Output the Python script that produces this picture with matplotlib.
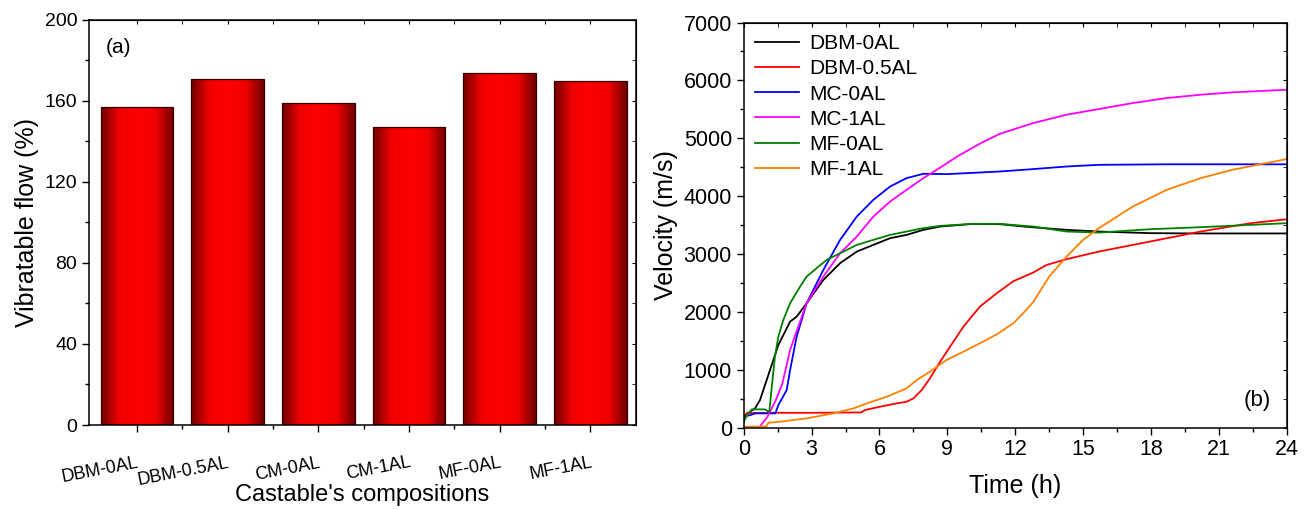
import matplotlib
matplotlib.use("Agg")
import matplotlib.pyplot as plt
import numpy as np
from matplotlib.colors import LinearSegmentedColormap
from matplotlib.ticker import MultipleLocator

plt.rcParams['font.family'] = ['Liberation Sans', 'DejaVu Sans']

# ---- panel (a) data ----
castables = ['DBM-0AL', 'DBM-0.5AL', 'CM-0AL', 'CM-1AL', 'MF-0AL', 'MF-1AL']
flow = [157, 171, 159, 147, 174, 170]

# ---- panel (b) data (time in h, velocity in m/s) ----
t_dbm0 = [0, 0.06, 0.5, 0.72, 1.53, 2.05, 2.34, 2.78, 3.52, 4.26, 5.0, 5.73, 6.47, 7.2,
          7.94, 8.68, 10.15, 11.33, 12.5, 14.27, 15.7, 17.96, 20, 24]
v_dbm0 = [100, 216, 332, 476, 1427, 1831, 1917, 2148, 2552, 2841, 3042, 3157, 3273, 3330,
          3417, 3474, 3521, 3515, 3470, 3417, 3388, 3360, 3355, 3355]

t_dbm05 = [0, 0.13, 1.0, 3.0, 5.2, 5.36, 6.02, 6.61, 7.2, 7.5, 7.87, 8.23, 8.68, 9.12, 9.71,
           10.44, 11.18, 11.92, 12.8, 13.39, 14.27, 15.7, 17.96, 20.2, 22.4, 24]
v_dbm05 = [130, 250, 255, 255, 262, 303, 360, 407, 447, 505, 649, 851, 1138, 1398, 1744,
           2090, 2320, 2530, 2680, 2811, 2910, 3042, 3215, 3388, 3532, 3600]

t_mc0 = [0, 0.1, 0.3, 0.5, 1.4, 1.53, 1.9, 2.05, 2.34, 2.78, 3.52, 4.26, 5.0, 5.73, 6.47,
         7.2, 7.94, 9.0, 10.0, 11.33, 12.8, 14.27, 15.7, 18.7, 24]
v_mc0 = [150, 200, 216, 245, 245, 389, 649, 995, 1571, 2148, 2725, 3244, 3648, 3936, 4166,
         4311, 4386, 4380, 4400, 4426, 4467, 4512, 4541, 4550, 4550]

t_mc1 = [0.76, 1.05, 1.42, 1.71, 2.05, 2.41, 2.78, 3.52, 4.26, 5.0, 5.73, 6.47, 7.2, 7.94,
         8.53, 9.5, 10.5, 11.33, 12.8, 14.27, 15.7, 17.2, 18.7, 20.2, 21.6, 24]
v_mc1 = [43, 187, 476, 764, 1341, 1744, 2148, 2609, 3014, 3301, 3647, 3907, 4109, 4311,
         4455, 4700, 4920, 5078, 5263, 5407, 5505, 5609, 5695, 5753, 5793, 5839]

t_mf0 = [0, 0.1, 0.28, 0.35, 0.94, 1.13, 1.24, 1.38, 1.53, 1.75, 2.05, 2.49, 2.78, 3.22,
         3.67, 4.26, 5.0, 5.73, 6.47, 7.2, 7.94, 8.68, 10.15, 11.33, 12.8, 14.27, 15.7,
         17.96, 20.2, 22.4, 24]
v_mf0 = [100, 180, 273, 314, 314, 273, 706, 1225, 1571, 1860, 2148, 2436, 2610, 2754,
         2898, 3013, 3157, 3244, 3330, 3388, 3446, 3486, 3521, 3520, 3474, 3388, 3370,
         3428, 3463, 3503, 3532]

t_mf1 = [0, 1.0, 1.09, 1.6, 2.78, 3.96, 4.85, 5.44, 6.32, 7.2, 7.65, 8.23, 8.97, 9.71,
         10.44, 11.18, 11.92, 12.35, 12.8, 13.5, 14.27, 15.0, 15.7, 16.5, 17.2, 18.7,
         20.2, 21.6, 23.1, 24]
v_mf1 = [14, 20, 83, 101, 159, 245, 332, 418, 533, 678, 822, 966, 1168, 1311, 1457, 1610,
         1803, 1976, 2170, 2609, 2955, 3244, 3446, 3647, 3820, 4109, 4311, 4455, 4571, 4640]

series = [
    ('DBM-0AL', t_dbm0, v_dbm0, 'black'),
    ('DBM-0.5AL', t_dbm05, v_dbm05, '#ff0000'),
    ('MC-0AL', t_mc0, v_mc0, '#0000ff'),
    ('MC-1AL', t_mc1, v_mc1, '#ff00ff'),
    ('MF-0AL', t_mf0, v_mf0, '#008000'),
    ('MF-1AL', t_mf1, v_mf1, '#ff8000'),
]

fig = plt.figure(figsize=(13.08, 5.09), dpi=100)
ax1 = fig.add_axes([0.068, 0.165, 0.418, 0.796])
ax2 = fig.add_axes([0.5686, 0.160, 0.4151, 0.7957])

# ---- panel (a): bars with horizontal red gradient ----
cmap = LinearSegmentedColormap.from_list('redgrad', ['#700000', '#f00000', '#ff0000', '#f00000', '#700000'])
grad = np.linspace(0, 1, 256).reshape(1, -1)
x = np.arange(len(castables))
bars = ax1.bar(x, flow, width=0.8, color='none', edgecolor='#300000', linewidth=0.9, zorder=3)
for b in bars:
    x0, y0 = b.get_x(), b.get_y()
    im = ax1.imshow(grad, cmap=cmap, aspect='auto', zorder=2,
                    extent=[x0, x0 + b.get_width(), y0, y0 + b.get_height()])
    im.set_clip_path(b)
ax1.set_xlim(-0.53, 5.5)
ax1.set_ylim(0, 200)
ax1.yaxis.set_major_locator(MultipleLocator(40))
ax1.yaxis.set_minor_locator(MultipleLocator(20))
ax1.set_xticks(x)
ax1.set_xticks(x[:-1] + 0.5, minor=True)
ax1.set_xticklabels(castables, rotation=11, ha='right', rotation_mode='anchor', fontsize=13)
ax1.tick_params(axis='x', which='major', pad=16)
ax1.tick_params(axis='y', labelsize=14)
ax1.set_ylabel('Vibratable flow (%)', fontsize=18)
ax1.set_xlabel("Castable's compositions", fontsize=17, labelpad=-3)
ax1.text(0.03, 0.955, '(a)', transform=ax1.transAxes, fontsize=15, va='top')

# ---- panel (b): velocity curves ----
for name, t, v, c in series:
    ax2.plot(t, v, color=c, linewidth=1.3, label=name)
ax2.set_xlim(0, 24)
ax2.set_ylim(0, 7000)
ax2.xaxis.set_major_locator(MultipleLocator(3))
ax2.xaxis.set_minor_locator(MultipleLocator(1.5))
ax2.yaxis.set_major_locator(MultipleLocator(1000))
ax2.yaxis.set_minor_locator(MultipleLocator(500))
ax2.tick_params(labelsize=15.5)
ax2.set_xlabel('Time (h)', fontsize=18, labelpad=10)
ax2.set_ylabel('Velocity (m/s)', fontsize=18)
ax2.legend(loc='upper left', frameon=False, fontsize=15, handlelength=2.1,
           labelspacing=0.3, borderaxespad=0.15, handletextpad=0.5)
ax2.text(0.97, 0.04, '(b)', transform=ax2.transAxes, fontsize=16, ha='right', va='bottom')

for ax in (ax1, ax2):
    ax.tick_params(which='both', direction='out', top=False, right=False)
    ax.tick_params(which='major', length=5, width=1)
    ax.tick_params(which='minor', length=3, width=1)
    for s in ax.spines.values():
        s.set_linewidth(1.1)
    sec_x = ax.secondary_xaxis('top')
    sec_x.set_xticks(ax.get_xticks(minor=False))
    sec_x.set_xticks(ax.get_xticks(minor=True), minor=True)
    sec_x.tick_params(which='both', direction='in', labeltop=False, length=3)
    sec_y = ax.secondary_yaxis('right')
    sec_y.set_yticks(ax.get_yticks(minor=False))
    sec_y.set_yticks(ax.get_yticks(minor=True), minor=True)
    sec_y.tick_params(which='both', direction='in', labelright=False, length=3)

fig.savefig('out.png', dpi=100)
